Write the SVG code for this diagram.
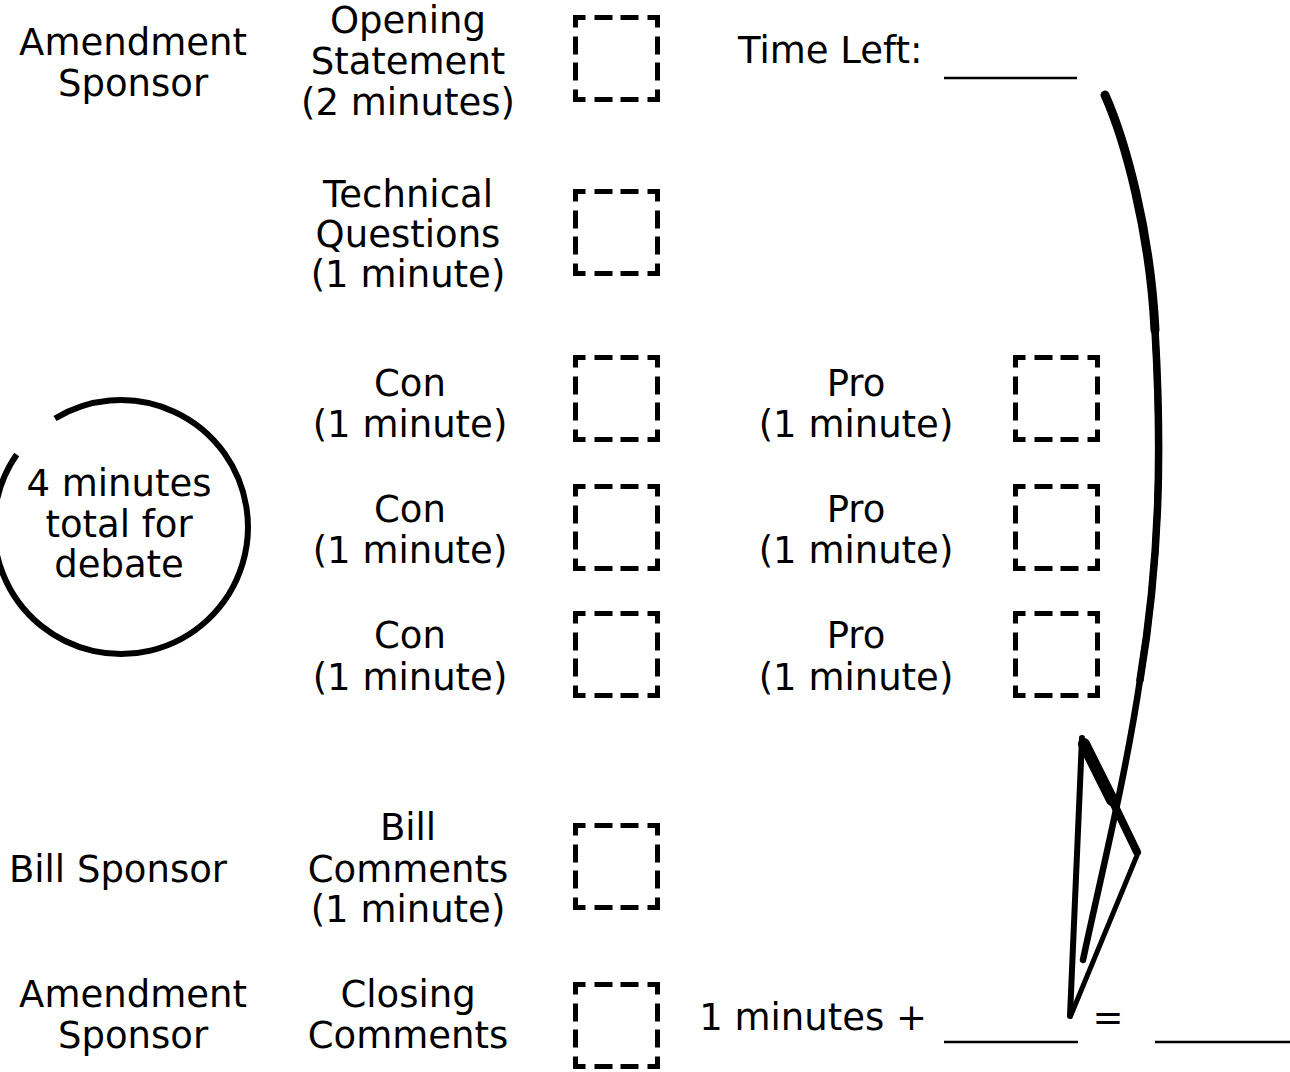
<svg xmlns="http://www.w3.org/2000/svg" width="1290" height="1072" viewBox="0 0 1290 1072">
<style>
text{font-family:"DejaVu Sans","Liberation Sans",sans-serif;font-size:37px;fill:#000;text-anchor:middle}
.box{fill:none;stroke:#000;stroke-width:5;stroke-linejoin:miter;stroke-dasharray:10 9 18 8 18 9 20 9 18 8 18 9 20 9 18 8 18 9 20 9 18 8 18 9 10}
.blank{stroke:#000;stroke-width:2.6}
.ink{fill:none;stroke:#000;stroke-linecap:round;stroke-linejoin:round}
</style>
<rect width="1290" height="1072" fill="#fff"/>

<g id="row-opening">
<text x="133" y="55">Amendment</text>
<text x="133" y="96">Sponsor</text>
<text x="408" y="33">Opening</text>
<text x="408" y="74">Statement</text>
<text x="408" y="115">(2 minutes)</text>
<rect class="box" x="575.5" y="17.5" width="82" height="82"/>
</g>

<g id="time-left">
<text x="738" y="63" style="text-anchor:start">Time Left:</text>
<line class="blank" x1="944" y1="78" x2="1077" y2="78"/>
</g>

<g id="row-technical">
<text x="408" y="207">Technical</text>
<text x="408" y="247">Questions</text>
<text x="408" y="287">(1 minute)</text>
<rect class="box" x="575.5" y="191.5" width="82" height="82"/>
</g>

<g id="debate-circle">
<path d="M55,418.5 A127,127 0 1 1 16.7,454.5" fill="none" stroke="#000" stroke-width="6"/>
<text x="119" y="496">4 minutes</text>
<text x="119" y="537">total for</text>
<text x="119" y="577">debate</text>
</g>

<g id="row-debate-1">
<text x="410" y="396">Con</text>
<text x="410" y="437">(1 minute)</text>
<rect class="box" x="575.5" y="357.5" width="82" height="82"/>
<text x="856" y="396">Pro</text>
<text x="856" y="437">(1 minute)</text>
<rect class="box" x="1015.5" y="357.5" width="82" height="82"/>
</g>

<g id="row-debate-2">
<text x="410" y="522">Con</text>
<text x="410" y="563">(1 minute)</text>
<rect class="box" x="575.5" y="486.5" width="82" height="82"/>
<text x="856" y="522">Pro</text>
<text x="856" y="563">(1 minute)</text>
<rect class="box" x="1015.5" y="486.5" width="82" height="82"/>
</g>

<g id="row-debate-3">
<text x="410" y="648">Con</text>
<text x="410" y="690">(1 minute)</text>
<rect class="box" x="575.5" y="613.5" width="82" height="82"/>
<text x="856" y="648">Pro</text>
<text x="856" y="690">(1 minute)</text>
<rect class="box" x="1015.5" y="613.5" width="82" height="82"/>
</g>

<g id="row-bill">
<text x="118" y="882">Bill Sponsor</text>
<text x="408" y="840">Bill</text>
<text x="408" y="882">Comments</text>
<text x="408" y="922">(1 minute)</text>
<rect class="box" x="575.5" y="825.5" width="82" height="82"/>
</g>

<g id="row-closing">
<text x="133" y="1007">Amendment</text>
<text x="133" y="1048">Sponsor</text>
<text x="408" y="1007">Closing</text>
<text x="408" y="1048">Comments</text>
<rect class="box" x="575.5" y="984.5" width="82" height="82"/>
</g>

<g id="total">
<text x="927" y="1030" style="text-anchor:end">1 minutes +</text>
<line class="blank" x1="944" y1="1042" x2="1078" y2="1042"/>
<text x="1108" y="1030">=</text>
<line class="blank" x1="1155" y1="1042" x2="1290" y2="1042"/>
</g>

<g id="connectors">
<path class="ink" stroke-width="6.5" d="M1105,95 C1125,140 1150,230 1155,330 C1162,450 1160,560 1140,680 C1125,780 1100,880 1083,960"/>
<path class="ink" stroke-width="7.5" d="M1105,95 C1125,140 1150,230 1155,330 C1162,450 1160,560 1140,680"/>
<path class="ink" stroke-width="9" d="M1105,95 C1125,140 1150,230 1155,330"/>
<path class="ink" stroke-width="6" d="M1082,738 L1070,1016"/>
<path class="ink" stroke-width="12" d="M1084,744 L1112,800"/>
<path class="ink" stroke-width="8" d="M1110,796 L1137,852"/>
<path class="ink" stroke-width="5" d="M1138,853 L1071,1015"/>
</g>
</svg>
